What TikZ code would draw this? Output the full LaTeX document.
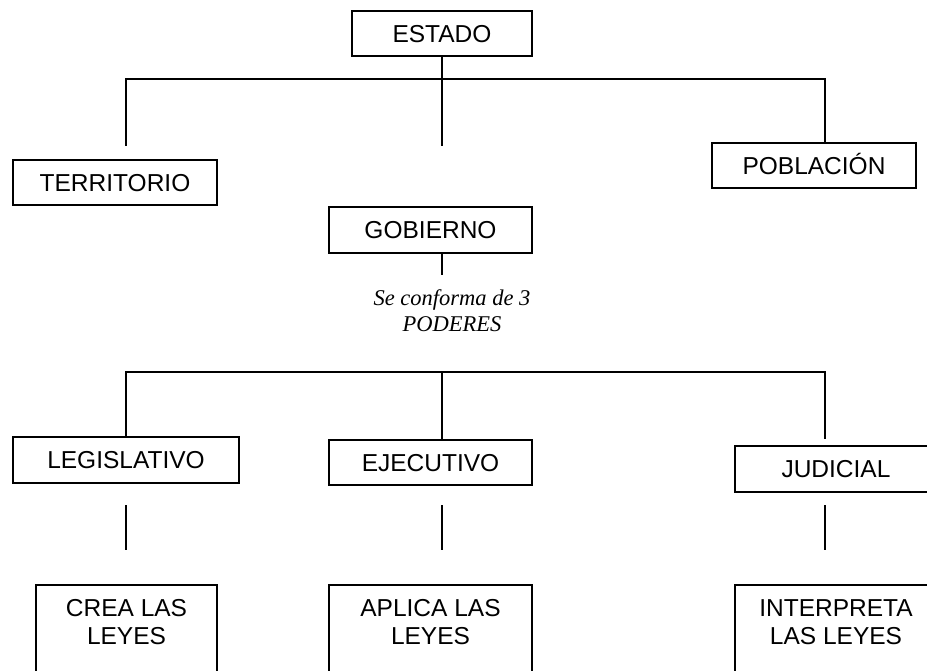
\documentclass[tikz,border=0pt]{standalone}
\usepackage{fontspec}
\setmainfont{Liberation Sans}
\newfontfamily\notafont{Liberation Serif}

\begin{document}
\begin{tikzpicture}[x=1pt,y=-1pt,
    caja/.style={draw, line width=1.6pt, inner sep=0pt, align=center,
      font=\fontsize{24.5}{28}\selectfont},
    unalinea/.style={caja, text height=17.6pt, text depth=0pt},
    abierta/.style={caja, anchor=north, inner ysep=15pt, text depth=80pt},
    linea/.style={line width=2.8pt},
    corta/.style={line width=2.2pt}]
    \useasboundingbox (0,0) rectangle (927,671);
    \clip (0,0) rectangle (927,671);

    % Estado y sus partes
    \node[unalinea, minimum width=180pt, minimum height=45pt] (estado) at (442,33.5) {ESTADO};
    \node[unalinea, minimum width=204pt, minimum height=45pt] (territorio) at (115,182.5) {TERRITORIO};
    \node[unalinea, minimum width=204pt, minimum height=45pt] (poblacion) at (814,165.5) {POBLACIÓN};
    \node[unalinea, minimum width=203pt, minimum height=46pt] (gobierno) at (430.5,230) {GOBIERNO};
    \node[align=center, font=\notafont\itshape\fontsize{22.5}{26}\selectfont] (nota) at (452,311) {Se conforma de 3\\PODERES};

    \coordinate (izq) at (126,146);
    \coordinate (centro) at (442,146);
    \coordinate (der) at (825,79);
    \coordinate (gobpie) at (442,275);
    \draw[linea] (izq) |- (der) -- (der |- poblacion.north);
    \draw[linea] (estado.south) -- (centro);
    \draw[linea] (gobpie |- gobierno.south) -- (gobpie);

    % Los 3 poderes
    \node[unalinea, minimum width=226pt, minimum height=46pt] (legislativo) at (126,460) {LEGISLATIVO};
    \node[unalinea, minimum width=203pt, minimum height=45pt] (ejecutivo) at (430.5,462.5) {EJECUTIVO};
    \node[unalinea, minimum width=202pt, minimum height=46pt] (judicial) at (836,469) {JUDICIAL};

    \coordinate (barra) at (126,372);
    \coordinate (barramed) at (442,372);
    \coordinate (barrader) at (825,372);
    \coordinate (judarriba) at (825,439);
    \draw[linea] (barra |- legislativo.north) -- (barra) -- (barrader) -- (judarriba);
    \draw[linea] (barramed) -- (barramed |- ejecutivo.north);

    \foreach \n/\x in {a/126,b/442,c/825} {
      \coordinate (sup\n) at (\x,505);
      \coordinate (inf\n) at (\x,550);
      \draw[corta] (sup\n) -- (inf\n);
    }

    % Funciones
    \node[abierta, minimum width=181pt] (crea) at (126.5,584) {CREA LAS\\LEYES};
    \node[abierta, minimum width=203pt] (aplica) at (430.5,584) {APLICA LAS\\LEYES};
    \node[abierta, minimum width=202pt] (interpreta) at (836,584) {INTERPRETA\\LAS LEYES};
\end{tikzpicture}
\end{document}
